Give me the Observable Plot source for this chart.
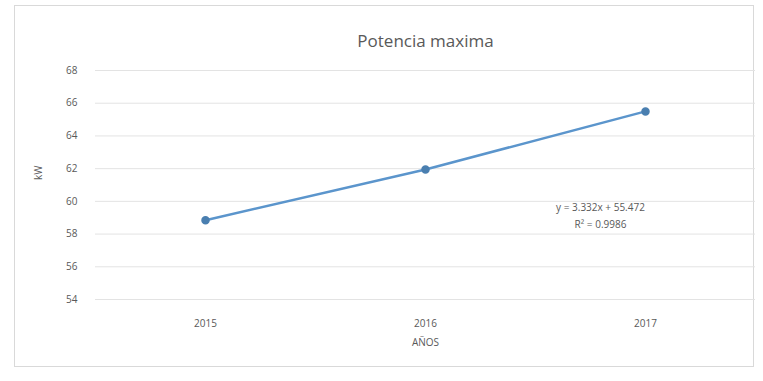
<!DOCTYPE html>
<html><head><meta charset="utf-8">
<script src="https://cdn.jsdelivr.net/npm/d3@7"></script>
<script src="https://cdn.jsdelivr.net/npm/@observablehq/plot@0.6"></script>
<style>
body{margin:0;background:#fff;font-family:Calibri,Carlito,"Open Sans",sans-serif;}
#wrap{position:relative;width:763px;height:381px;}
#border{position:absolute;left:14px;top:5px;width:740px;height:362px;border:1px solid #d9d9d9;box-sizing:border-box;}
#chart{position:absolute;left:0;top:0;}
</style></head>
<body><div id="wrap"><div id="border"></div><div id="chart"></div></div>
<script>
const years = ["2015","2016","2017"];
const kw = [58.85, 61.95, 65.5];
const yTicks = [54,56,58,60,62,64,66,68];
const title = "Potencia maxima";
const xLabel = "AÑOS";
const yLabel = "kW";
const eqLines = ["y = 3.332x + 55.472", "R² = 0.9986"];

const data = years.map((y,i)=>({year:y, kw:kw[i]}));
const gray = "#595959";

const chart = Plot.plot({
  width: 763, height: 381,
  marginLeft: 95, marginRight: 8, marginTop: 70, marginBottom: 82,
  style: {fontFamily: "'Open Sans', sans-serif", background: "transparent", color: gray},
  x: {type: "point", domain: years, padding: 0.5, label: null},
  y: {domain: [54, 68], ticks: yTicks, label: null},
  marks: [
    Plot.gridY(yTicks, {stroke: "#e3e3e3", strokeOpacity: 1, strokeWidth: 1}),
    Plot.axisY(yTicks, {tickSize: 0, tickPadding: 18, fontSize: 10, fill: gray, label: null}),
    Plot.axisX(years, {tickSize: 0, tickPadding: 20, fontSize: 10, fill: gray, label: null}),
    Plot.line(data, {x: "year", y: "kw", stroke: "#5b95cc", strokeWidth: 2.5}),
    Plot.dot(data, {x: "year", y: "kw", r: 3.5, fill: "#4a7fb0", stroke: "#4a7fb0"}),
    Plot.text([title], {frameAnchor: "top", dy: -36, fontSize: 17, fill: gray, text: d=>d}),
    Plot.text([xLabel], {frameAnchor: "bottom", dy: 46, fontSize: 10, fill: gray, text: d=>d}),
    Plot.text([yLabel], {frameAnchor: "left", dx: -57, dy: -5, rotate: -90, fontSize: 10, fill: gray, text: d=>d}),
    Plot.text([{year: "2017", kw: 59.2, label: eqLines.join("\n")}], {x: "year", y: "kw", dx: -45, fontSize: 10, fill: gray, text: "label", lineHeight: 1.7})
  ]
});
document.getElementById("chart").appendChild(chart);
</script></body></html>
